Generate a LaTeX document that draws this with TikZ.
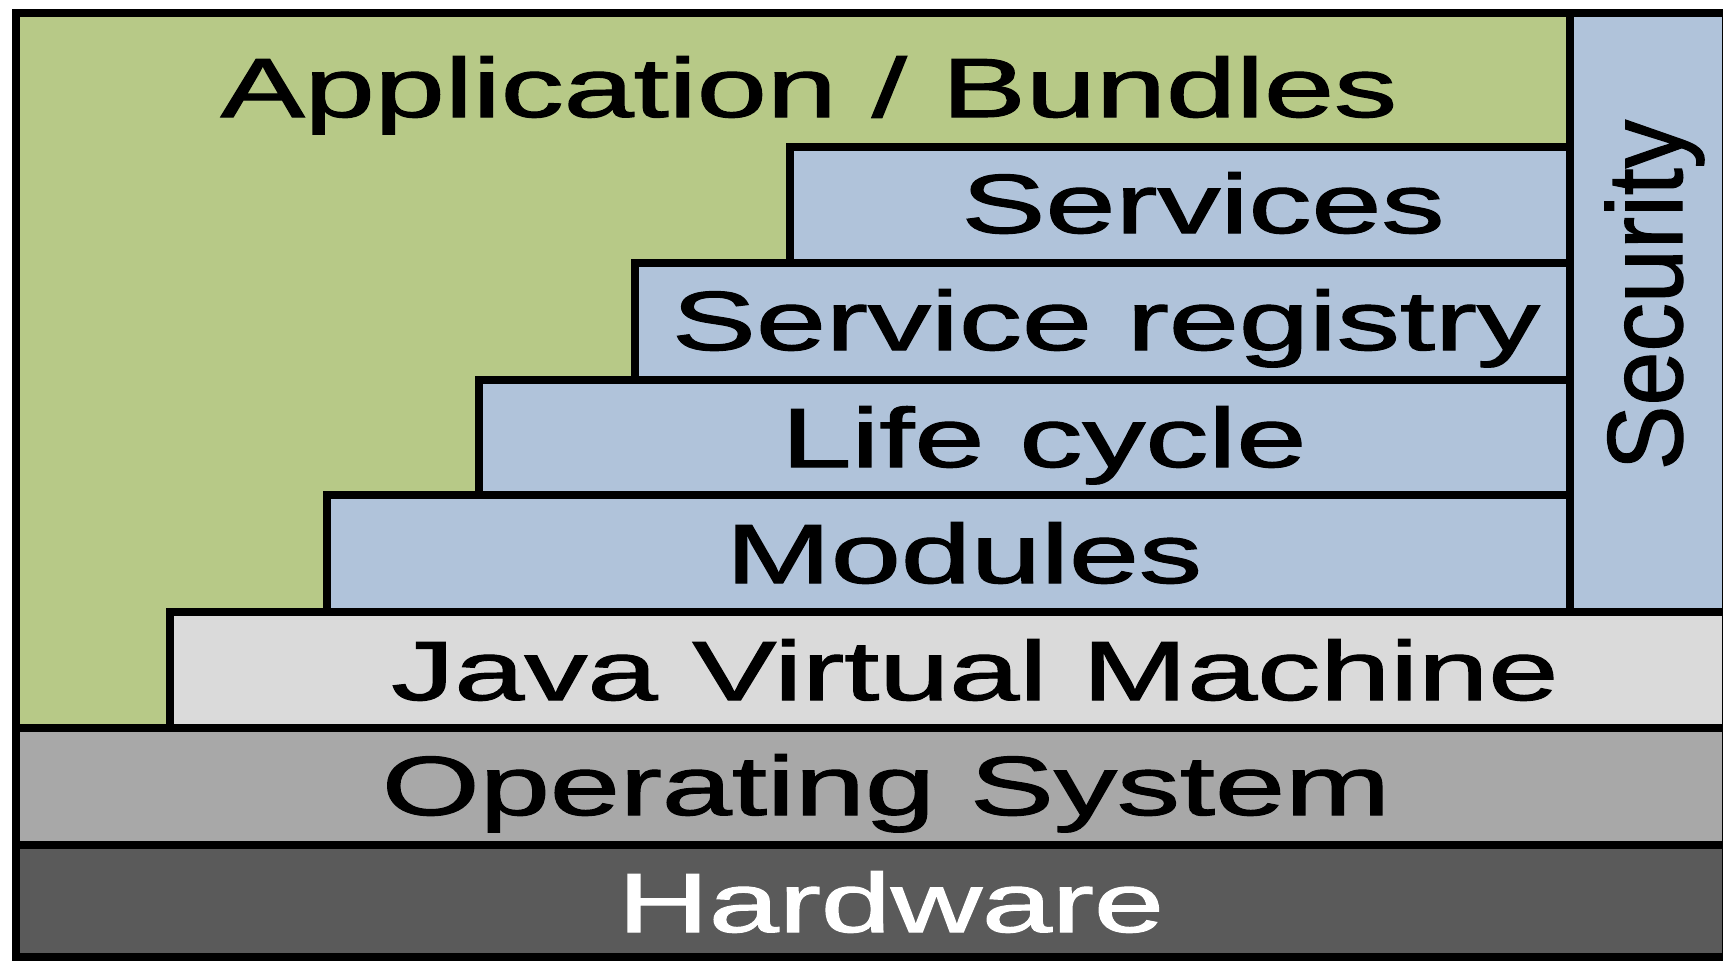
\documentclass[tikz,border=0pt]{standalone}
\usepackage{fontspec}
\setmainfont{Liberation Sans}[BoldFont={Liberation Sans}, BoldFeatures={FakeBold=1.2}]
\usetikzlibrary{positioning}

\definecolor{appgreen}{RGB}{183,201,135}
\definecolor{fwblue}{RGB}{176,195,218}
\definecolor{jvmgrey}{RGB}{218,218,218}
\definecolor{osgrey}{RGB}{168,168,168}
\definecolor{hwgrey}{RGB}{90,90,90}

\newcommand{\wide}[1]{\scalebox{1.5}[1]{#1}}

\begin{document}
\begin{tikzpicture}[x=1pt, y=-1pt]
    \tikzstyle{layer} = [draw=black, line width=8pt, line join=miter]
    \tikzstyle{layername} = [anchor=base, inner sep=0pt, font=\fontsize{84}{84}\selectfont\bfseries]
    \useasboundingbox (0,0) rectangle (1723,961);

    % layers
    \draw[layer, fill=appgreen] (16,13) rectangle (1570,728);
    \draw[layer, fill=fwblue] (1570,13) rectangle (1726,612);
    \draw[layer, fill=fwblue] (790,147) rectangle (1570,263);
    \draw[layer, fill=fwblue] (635,263) rectangle (1570,380);
    \draw[layer, fill=fwblue] (479,380) rectangle (1570,495);
    \draw[layer, fill=fwblue] (327,495) rectangle (1570,612);
    \draw[layer, fill=jvmgrey] (170,612) rectangle (1726,728);
    \draw[layer, fill=osgrey] (16,728) rectangle (1726,845);
    \draw[layer, fill=hwgrey] (16,845) rectangle (1726,957);

    % names
    \node[layername] (app) at (809,117) {\wide{Application / Bundles}};
    \node[layername] (services) at (1203,233) {\wide{Services}};
    \node[layername] (registry) at (1106,350) {\wide{Service registry}};
    \node[layername] (lifecycle) at (1044,467) {\wide{Life cycle}};
    \node[layername] (modules) at (964,583) {\wide{Modules}};
    \node[layername] (jvm) at (975,700) {\wide{Java Virtual Machine}};
    \node[layername] (os) at (886,815) {\wide{Operating System}};
    \node[layername, text=white] (hw) at (891,932) {\wide{Hardware}};
    \node[layername, rotate=90, font=\fontsize{97}{97}\selectfont\bfseries] (security) at (1682,295) {\scalebox{1}[1.1]{Security}};
\end{tikzpicture}
\end{document}
